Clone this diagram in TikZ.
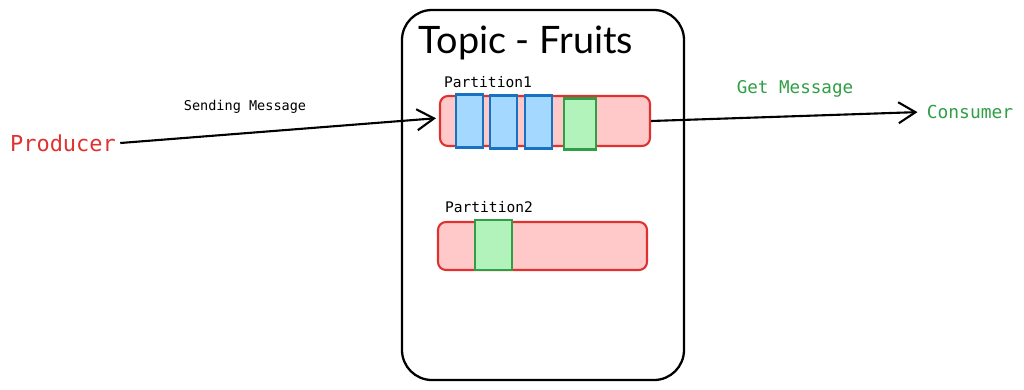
\documentclass[tikz,border=0pt]{standalone}
\usepackage{fontspec}
\setmainfont{Liberation Sans}
\newfontfamily\monofont{DejaVu Sans Mono}
\newfontfamily\titlefont{Lato}
\usetikzlibrary{arrows.meta}
\definecolor{redline}{HTML}{E03131}
\definecolor{redfill}{HTML}{FFC9C9}
\definecolor{blueline}{HTML}{1971C2}
\definecolor{bluefill}{HTML}{A5D8FF}
\definecolor{greenline}{HTML}{2F9E44}
\definecolor{greenfill}{HTML}{B2F2BB}
\tikzset{
  bar/.style={draw=redline, fill=redfill, line width=1.2pt, rounded corners=0.16cm, minimum width=4.2cm, minimum height=1.0cm, inner sep=0pt},
  msgblue/.style={draw=blueline, fill=bluefill, line width=1.2pt, minimum width=0.54cm, minimum height=1.06cm, inner sep=0pt},
  msggreen/.style={draw=greenline, fill=greenfill, line width=1.2pt, minimum height=1.02cm, inner sep=0pt},
  lbl/.style={font=\monofont\fontsize{8.3}{10}\selectfont, inner sep=0pt},
  conn/.style={line width=1.2pt, -{Straight Barb[length=0.34cm,width=0.42cm,line width=1.2pt]}, shorten >=0.06cm}
}
\begin{document}
\begin{tikzpicture}
\useasboundingbox (0,0) rectangle (20.48,-7.78);
% topic box
\node[draw=black, line width=1.3pt, rounded corners=0.6cm, minimum width=5.64cm, minimum height=7.4cm, inner sep=0pt] (topic) at (10.86,-3.9) {};
\node[font=\titlefont\fontsize{21.5}{25}\selectfont, inner sep=0pt] (title) at (10.52,-0.86) {Topic - Fruits};
% partition 1
\node[lbl] (p1lbl) at (9.76,-1.64) {Partition1};
\node[bar] (p1) at (10.9,-2.42) {};
\node[msgblue] (b1) at (9.39,-2.42) {};
\node[msgblue] (b2) at (10.07,-2.44) {};
\node[msgblue] (b3) at (10.77,-2.44) {};
\node[msggreen, minimum width=0.64cm] (g1) at (11.6,-2.48) {};
% partition 2
\node[lbl] (p2lbl) at (9.78,-4.14) {Partition2};
\node[bar, minimum width=4.18cm, minimum height=0.96cm] (p2) at (10.85,-4.92) {};
\node[msggreen, minimum width=0.74cm, minimum height=1.0cm] (g2) at (9.87,-4.9) {};
% producer / consumer
\node[font=\monofont\fontsize{12.5}{15}\selectfont, text=redline, inner sep=0.08cm] (producer) at (1.26,-2.86) {Producer};
\node[font=\monofont\fontsize{10.2}{12}\selectfont, text=greenline, inner sep=0.12cm] (consumer) at (19.4,-2.24) {Consumer};
\draw[conn] (producer.east) -- ([yshift=0.06cm]p1.west);
\node[font=\monofont\fontsize{7.7}{9}\selectfont, inner sep=0pt] (sendlbl) at (4.9,-2.14) {Sending Message};
\draw[conn] (p1.east) -- (consumer.west);
\node[font=\monofont\fontsize{10}{12}\selectfont, text=greenline, inner sep=0pt] (getlbl) at (15.9,-1.78) {Get Message};
\end{tikzpicture}
\end{document}
